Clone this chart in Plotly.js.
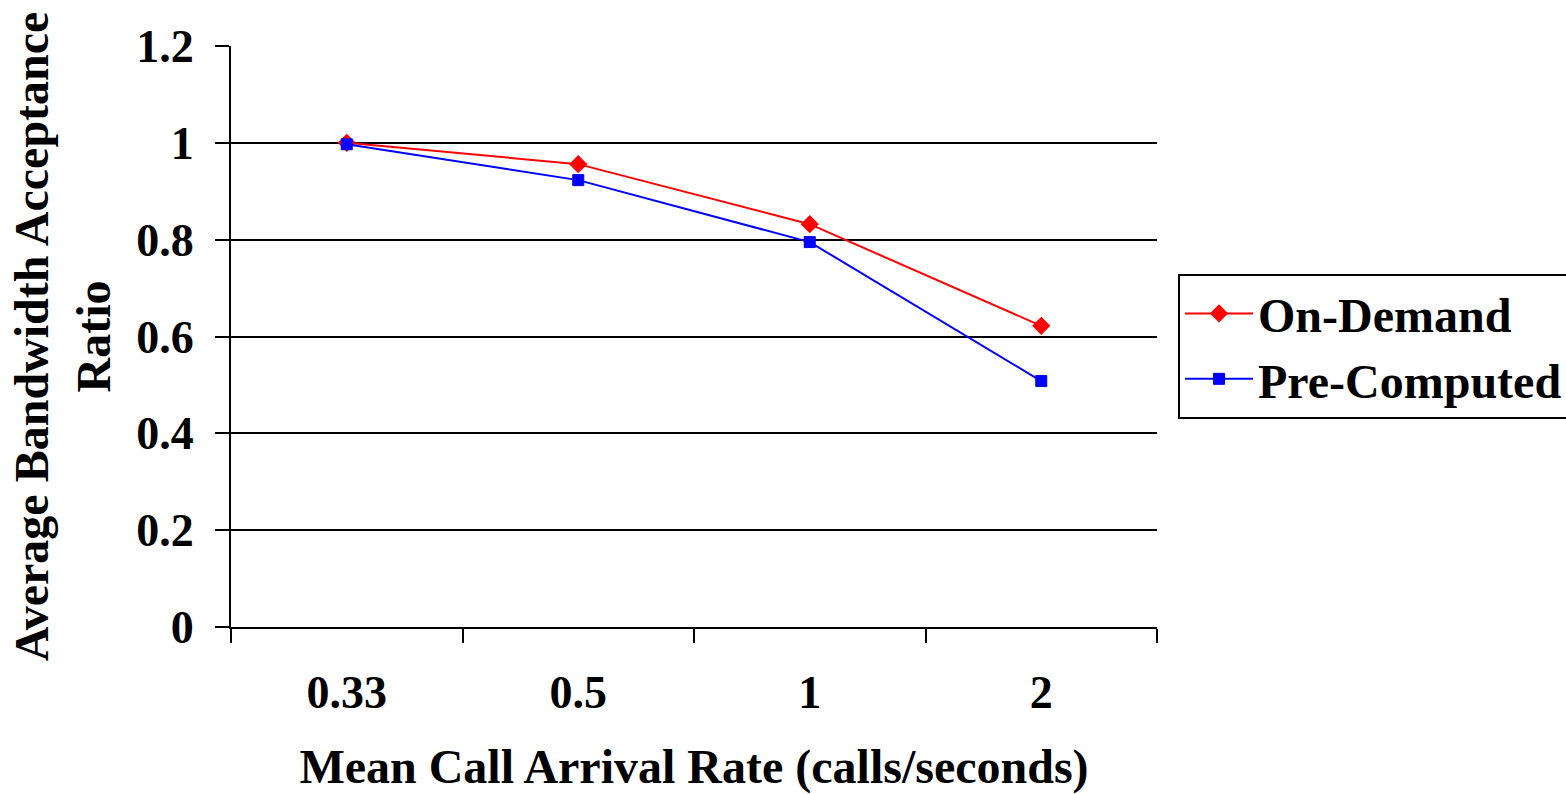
<!DOCTYPE html>
<html>
<head>
<meta charset="utf-8">
<script src="https://cdn.plot.ly/plotly-3.0.1.min.js"></script>
<style>html,body{margin:0;padding:0;background:#fff;overflow:hidden;}#chart{width:1566px;height:794px;}</style>
</head>
<body>
<div id="chart"></div>
<script>
// Mean call arrival rates (category labels on the x axis)
const arrivalRates = ['0.33', '0.5', '1', '2'];
// Average bandwidth acceptance ratio per scheme
const onDemand = [1.0, 0.956, 0.832, 0.622];
const preComputed = [0.997, 0.923, 0.795, 0.508];
const yTicks = [0, 0.2, 0.4, 0.6, 0.8, 1, 1.2];
const yTickText = ['0', '0.2', '0.4', '0.6', '0.8', '1', '1.2'];

const serif = 'Liberation Serif, Times New Roman, serif';

const traces = [
  {
    x: arrivalRates, y: onDemand, name: 'On-Demand', type: 'scatter', mode: 'lines+markers',
    line: {color: '#ff0000', width: 2},
    marker: {symbol: 'diamond', size: 14, color: '#ff0000'}
  },
  {
    x: arrivalRates, y: preComputed, name: 'Pre-Computed', type: 'scatter', mode: 'lines+markers',
    line: {color: '#0000ff', width: 2},
    marker: {symbol: 'square', size: 11, color: '#0000ff', line: {color: '#0000ff', width: 1}}
  }
];

const layout = {
  width: 1566, height: 794,
  paper_bgcolor: '#ffffff', plot_bgcolor: '#ffffff',
  margin: {l: 231, r: 409, t: 46, b: 167, autoexpand: false},
  font: {family: serif, color: '#000', size: 48},
  showlegend: true,
  legend: {
    x: 1.0227, y: 0.608, xanchor: 'left', yanchor: 'top',
    bordercolor: '#000', borderwidth: 2, bgcolor: '#fff',
    font: {family: serif, size: 48, color: '#000', weight: 'bold'},
    tracegroupgap: 0, itemwidth: 68
  },
  xaxis: {
    type: 'category', range: [-0.5, 3.5],
    tickson: 'boundaries', ticks: 'outside', ticklen: 14, tickwidth: 2, tickcolor: '#000',
    ticklabelstandoff: 24,
    showline: true, linecolor: '#000', linewidth: 2,
    showgrid: false, zeroline: false,
    tickfont: {family: serif, size: 46, color: '#000', weight: 'bold'},
    title: {text: 'Mean Call Arrival Rate (calls/seconds)', standoff: 38,
            font: {family: serif, size: 48, color: '#000', weight: 'bold'}}
  },
  yaxis: {
    range: [0, 1.2], tickvals: yTicks, ticktext: yTickText,
    ticks: 'outside', ticklen: 14, tickwidth: 2, tickcolor: '#000',
    ticklabelstandoff: 12,
    showline: true, linecolor: '#000', linewidth: 2,
    showgrid: true, gridcolor: '#000', gridwidth: 2, zeroline: false,
    tickfont: {family: serif, size: 46, color: '#000', weight: 'bold'},
    title: {text: 'Average Bandwidth Acceptance<br>Ratio', standoff: 10,
            font: {family: serif, size: 48, color: '#000', weight: 'bold'}}
  }
};

Plotly.newPlot('chart', traces, layout, {displayModeBar: false, staticPlot: true});
</script>
</body>
</html>
